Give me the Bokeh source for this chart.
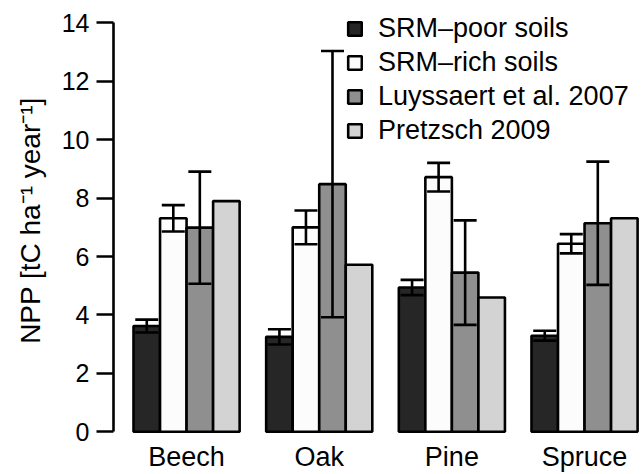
from bokeh.plotting import figure
from bokeh.models import ColumnDataSource, Range1d, FixedTicker, Whisker, TeeHead
from bokeh.embed import file_html
from bokeh.resources import INLINE

# ---- data ----
species = ["Beech", "Oak", "Pine", "Spruce"]
series_names = ["SRM\u2013poor soils", "SRM\u2013rich soils", "Luyssaert et al. 2007", "Pretzsch 2009"]
srm_poor = [3.62, 3.25, 4.94, 3.29]
srm_poor_err = [0.22, 0.26, 0.26, 0.17]
srm_rich = [7.31, 7.00, 8.72, 6.44]
srm_rich_err = [0.45, 0.58, 0.49, 0.33]
luyssaert = [6.99, 8.48, 5.45, 7.14]
luyssaert_err = [1.92, 4.56, 1.79, 2.11]
pretzsch = [7.90, 5.72, 4.60, 7.31]
pretzsch_err = None
y_ticks = [0, 2, 4, 6, 8, 10, 12, 14]
y_label = "NPP [tC ha\u207b\u00b9 year\u207b\u00b9]"

values = [srm_poor, srm_rich, luyssaert, pretzsch]
errors = [srm_poor_err, srm_rich_err, luyssaert_err, pretzsch_err]
colors = ["#262626", "#fcfcfc", "#8f8f8f", "#d3d3d3"]

FONT = "Liberation Sans"
LW = 2.6

n_series = len(values)
stride = n_series + 1  # one bar width of space between groups

p = figure(width=644, height=474, output_backend="svg", toolbar_location=None,
           x_range=Range1d(0.246, 20.26), y_range=Range1d(-0.3, 14.77),
           min_border_left=113, min_border_right=0, min_border_top=0, min_border_bottom=32)
p.outline_line_color = None
p.xgrid.visible = False
p.ygrid.visible = False
p.background_fill_color = "white"
p.border_fill_color = "white"

for j, (vals, errs, col, name) in enumerate(zip(values, errors, colors, series_names)):
    xs = [1 + stride * i + j + 0.5 for i in range(len(species))]
    src = ColumnDataSource(dict(x=xs, top=vals))
    p.vbar(x="x", top="top", bottom=0, width=1, source=src, fill_color=col,
           line_color="black", line_width=LW, legend_label=name)
    if errs is not None:
        esrc = ColumnDataSource(dict(x=xs,
                                     upper=[v + e for v, e in zip(vals, errs)],
                                     lower=[v - e for v, e in zip(vals, errs)]))
        w = Whisker(source=esrc, base="x", upper="upper", lower="lower", dimension="height",
                    line_width=LW, line_color="black",
                    upper_head=TeeHead(size=23, line_width=LW, line_color="black"),
                    lower_head=TeeHead(size=23, line_width=LW, line_color="black"))
        w.level = "overlay"
        p.add_layout(w)

# y axis
ya = p.yaxis[0]
ya.ticker = FixedTicker(ticks=y_ticks)
ya.bounds = (0, 14)
ya.major_tick_out = 17
ya.major_tick_in = 0
ya.minor_tick_out = 0
ya.minor_tick_in = 0
ya.axis_line_width = LW
ya.major_tick_line_width = LW
ya.major_label_standoff = 7
ya.major_label_text_font = FONT
ya.major_label_text_font_size = "25px"
ya.major_label_text_color = "black"
ya.axis_label = y_label
ya.axis_label_standoff = 13
ya.axis_label_text_font = FONT
ya.axis_label_text_font_size = "28px"
ya.axis_label_text_font_style = "normal"
ya.axis_label_text_color = "black"

# x axis
xa = p.xaxis[0]
centers = [1 + stride * i + (n_series - 1) / 2 + 0.5 for i in range(len(species))]
xa.ticker = FixedTicker(ticks=centers)
xa.major_label_overrides = {c: s for c, s in zip(centers, species)}
xa.axis_line_color = None
xa.major_tick_line_color = None
xa.minor_tick_line_color = None
xa.major_tick_out = 0
xa.major_tick_in = 0
xa.major_label_standoff = 1
xa.major_label_text_font = FONT
xa.major_label_text_font_size = "27px"
xa.major_label_text_color = "black"

# legend
lg = p.legend[0]
lg.location = (233, 294)
lg.border_line_color = None
lg.background_fill_alpha = 0
lg.padding = 0
lg.margin = 0
lg.spacing = 3
lg.glyph_width = 17
lg.glyph_height = 17
lg.label_standoff = 15
lg.label_text_font = FONT
lg.label_text_font_size = "27px"
lg.label_text_color = "black"

open("out.html", "w").write(file_html(p, INLINE))
